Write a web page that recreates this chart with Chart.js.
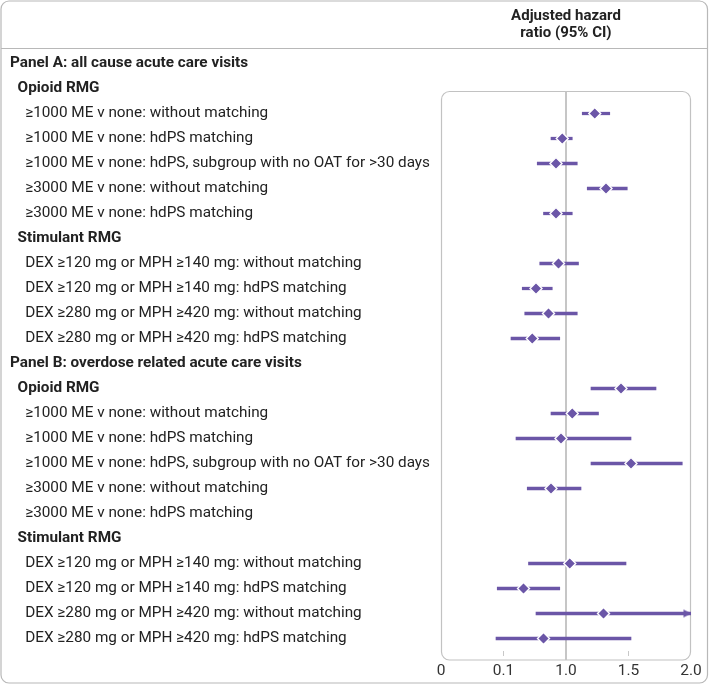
<!DOCTYPE html>
<html>
<head>
<meta charset="utf-8">
<script src="https://cdn.jsdelivr.net/npm/chart.js@4.4.1/dist/chart.umd.min.js"></script>
<style>
  html, body { margin: 0; padding: 0; background: #fff; }
  #wrap { position: relative; width: 709px; height: 685px; }
</style>
</head>
<body>
<div id="wrap"><canvas id="myChart"></canvas></div>
<script>
// rows of the forest plot, top to bottom
const rowLabels = [
  'Panel A: all cause acute care visits',
  'Opioid RMG',
  '≥1000 ME v none: without matching',
  '≥1000 ME v none: hdPS matching',
  '≥1000 ME v none: hdPS, subgroup with no OAT for >30 days',
  '≥3000 ME v none: without matching',
  '≥3000 ME v none: hdPS matching',
  'Stimulant RMG',
  'DEX ≥120 mg or MPH ≥140 mg: without matching',
  'DEX ≥120 mg or MPH ≥140 mg: hdPS matching',
  'DEX ≥280 mg or MPH ≥420 mg: without matching',
  'DEX ≥280 mg or MPH ≥420 mg: hdPS matching',
  'Panel B: overdose related acute care visits',
  'Opioid RMG',
  '≥1000 ME v none: without matching',
  '≥1000 ME v none: hdPS matching',
  '≥1000 ME v none: hdPS, subgroup with no OAT for >30 days',
  '≥3000 ME v none: without matching',
  '≥3000 ME v none: hdPS matching',
  'Stimulant RMG',
  'DEX ≥120 mg or MPH ≥140 mg: without matching',
  'DEX ≥120 mg or MPH ≥140 mg: hdPS matching',
  'DEX ≥280 mg or MPH ≥420 mg: without matching',
  'DEX ≥280 mg or MPH ≥420 mg: hdPS matching'
];

// adjusted hazard ratio and 95% CI (same row order)
const hazardRatio = [null, null, 1.23, 0.97, 0.92, 1.32, 0.92, null, 0.94, 0.76, 0.86, 0.73,
                     null, 1.44, 1.05, 0.96, 1.52, 0.88, null, null, 1.03, 0.66, 1.30, 0.82];
const ciLow  = [null, null, 1.13, 0.88, 0.77, 1.17, 0.82, null, 0.79, 0.65, 0.67, 0.56,
                null, 1.20, 0.88, 0.60, 1.20, 0.69, null, null, 0.70, 0.45, 0.76, 0.44];
const ciHigh = [null, null, 1.35, 1.05, 1.09, 1.49, 1.05, null, 1.10, 0.89, 1.09, 0.95,
                null, 1.72, 1.26, 1.52, 1.93, 1.12, null, null, 1.48, 0.95, 2.00, 1.52];

const tickLabels = ['0', '0.1', '1.0', '1.5', '2.0'];
const headerLines = ['Adjusted hazard', 'ratio (95% CI)'];

const X_MAX = 2;
const purple = '#6b56a7';
const fontFamily = 'Roboto, "Open Sans", sans-serif';

// CI upper limits that run off the axis get an arrow
const arrows = ciHigh.map(v => (v !== null && v >= X_MAX ? X_MAX : null));

const level = label => label.startsWith('Panel') ? 0 : (label.endsWith('RMG') ? 1 : 2);
const indent = ['', '  ', '    '];

// arrow head with its tip in the middle of the image
const arrowHead = document.createElement('canvas');
arrowHead.width = 20;
arrowHead.height = 12;
(() => {
  const c = arrowHead.getContext('2d');
  c.fillStyle = purple;
  c.beginPath();
  c.moveTo(10, 6);
  c.lineTo(2.5, 2);
  c.lineTo(2.5, 10);
  c.closePath();
  c.fill();
})();

const framePlugin = {
  id: 'frame',
  beforeDatasetsDraw(chart) {
    const {ctx, chartArea, scales} = chart;
    const top = scales.y.getPixelForValue(1) + 3;
    const bottom = chartArea.bottom + 9;
    ctx.save();
    // outer box and header rule
    ctx.strokeStyle = '#b8b8b8';
    ctx.lineWidth = 1.2;
    ctx.beginPath();
    ctx.roundRect(1, 1, chart.width - 2.5, chart.height - 3, 8);
    ctx.stroke();
    ctx.beginPath();
    ctx.moveTo(1, 48.5);
    ctx.lineTo(chart.width - 1.5, 48.5);
    ctx.stroke();
    // plot panel
    ctx.strokeStyle = '#c2c2c2';
    ctx.beginPath();
    ctx.roundRect(chartArea.left + 0.5, top, chartArea.right - chartArea.left - 1, bottom - top, 8);
    ctx.stroke();
    // line of no effect
    const x1 = scales.x.getPixelForValue(1);
    ctx.strokeStyle = '#c6c6c6';
    ctx.lineWidth = 2;
    ctx.beginPath();
    ctx.moveTo(x1, top);
    ctx.lineTo(x1, bottom);
    ctx.stroke();
    ctx.restore();
  }
};

const ctx = document.getElementById('myChart');
new Chart(ctx, {
  type: 'bar',
  data: {
    labels: rowLabels,
    datasets: [
      {
        type: 'line',
        label: 'Hazard ratio',
        data: hazardRatio,
        xAxisID: 'x',
        showLine: false,
        pointStyle: 'rectRot',
        pointRadius: 6,
        pointBackgroundColor: purple,
        pointBorderColor: '#ffffff',
        pointBorderWidth: 1.4,
        order: 0
      },
      {
        type: 'line',
        label: 'Truncated',
        data: arrows,
        xAxisID: 'x',
        showLine: false,
        pointStyle: arrowHead,
        order: 1
      },
      {
        type: 'bar',
        label: '95% CI',
        data: ciLow.map((lo, i) => (lo === null ? null : [lo, ciHigh[i]])),
        xAxisID: 'x',
        backgroundColor: purple,
        borderWidth: 0,
        barThickness: 2.6,
        order: 2
      }
    ]
  },
  options: {
    indexAxis: 'y',
    responsive: true,
    maintainAspectRatio: false,
    animation: false,
    layout: { padding: { left: 10, right: 18, top: 0, bottom: 5 } },
    plugins: {
      legend: { display: false },
      tooltip: { enabled: false }
    },
    scales: {
      x: {
        type: 'linear',
        position: 'bottom',
        min: 0,
        max: X_MAX,
        afterFit: s => { s.height = 29; },
        border: { display: false },
        grid: {
          drawOnChartArea: false,
          tickLength: 5,
          color: c => (c.tick && (c.tick.value === 0 || c.tick.value === X_MAX) ? 'rgba(0,0,0,0)' : '#c8c8c8')
        },
        ticks: {
          stepSize: 0.5,
          autoSkip: false,
          maxRotation: 0,
          padding: 6,
          color: '#333',
          font: { family: fontFamily, size: 15.5 },
          callback: (v, i) => tickLabels[i]
        }
      },
      xTop: {
        type: 'linear',
        axis: 'x',
        position: 'top',
        min: 0,
        max: X_MAX,
        afterFit: s => { s.height = 51; },
        border: { display: false },
        grid: { display: false, drawTicks: false },
        ticks: { display: false },
        title: {
          display: true,
          text: headerLines,
          color: '#222',
          font: { family: fontFamily, size: 15, weight: 'bold', lineHeight: 17 / 15 },
          padding: { top: 8, bottom: 9 }
        }
      },
      y: {
        type: 'category',
        position: 'left',
        offset: true,
        border: { display: false },
        grid: { display: false },
        afterFit: s => { s.width = 431; },
        ticks: {
          crossAlign: 'far',
          padding: 0,
          autoSkip: false,
          color: '#222',
          font: c => ({
            family: fontFamily,
            size: 15.3,
            weight: level(rowLabels[c.index]) < 2 ? 'bold' : 'normal'
          }),
          callback: (v, i) => indent[level(rowLabels[i])] + rowLabels[i]
        }
      }
    }
  },
  plugins: [framePlugin]
});
</script>
</body>
</html>
